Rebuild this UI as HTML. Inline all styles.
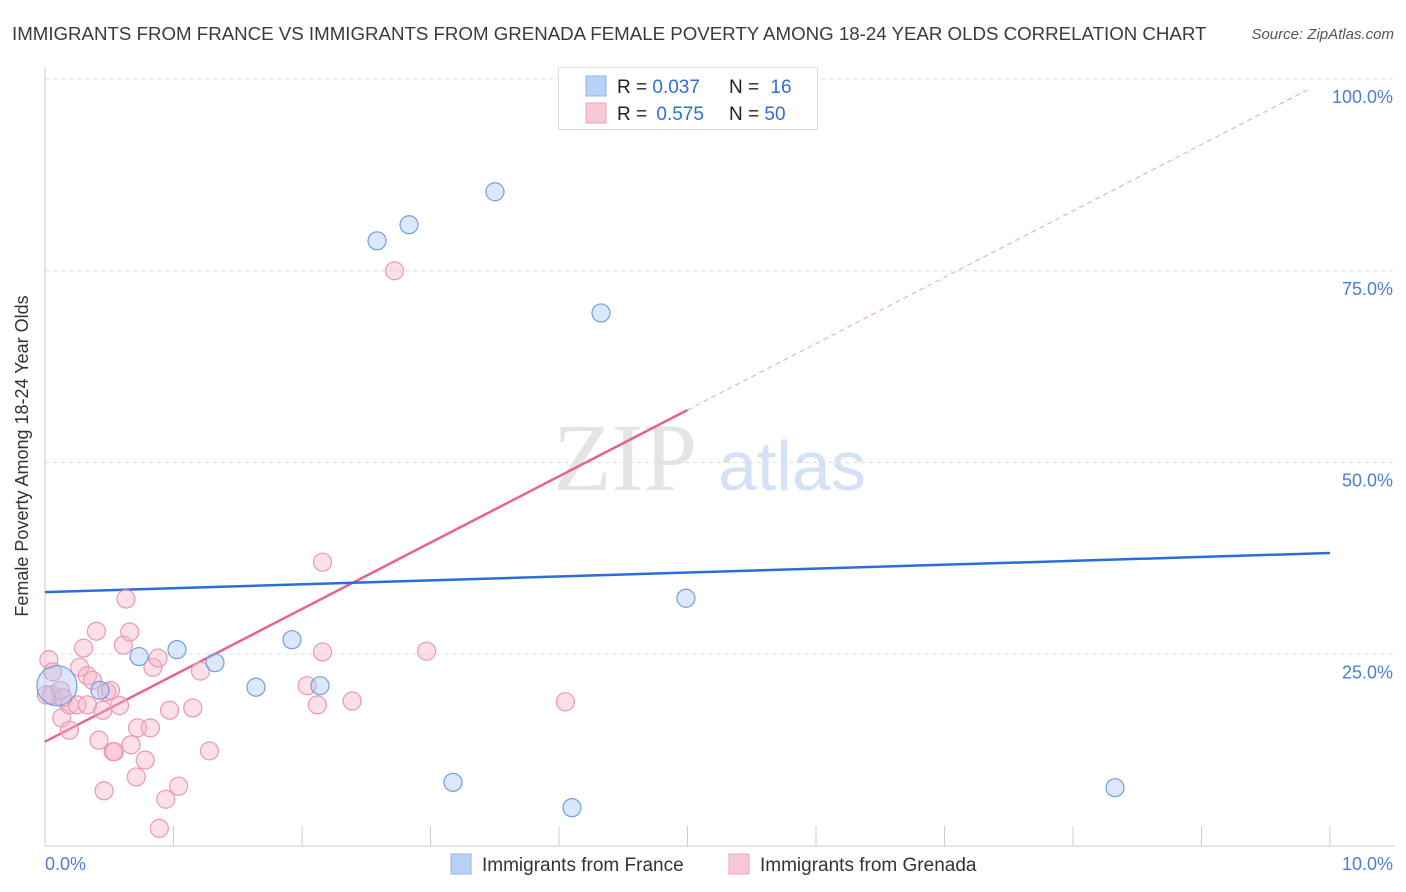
<!DOCTYPE html>
<html><head><meta charset="utf-8"><style>
body{margin:0;background:#fff;font-family:"Liberation Sans",sans-serif;}
svg{display:block}
</style></head><body>
<svg id="chart" width="1406" height="892">
<text x="12" y="40" font-size="18.7" fill="#3a3a3a">IMMIGRANTS FROM FRANCE VS IMMIGRANTS FROM GRENADA FEMALE POVERTY AMONG 18-24 YEAR OLDS CORRELATION CHART</text>
<text x="1394" y="39" font-size="15" font-style="italic" fill="#555" text-anchor="end">Source: ZipAtlas.com</text>
<text x="28" y="456" font-size="18" fill="#333" text-anchor="middle" transform="rotate(-90 28 456)">Female Poverty Among 18-24 Year Olds</text>
<g>
<text x="553" y="490" font-family="Liberation Serif,serif" font-size="96" fill="#e4e4e4">ZIP</text>
<text x="718" y="490" font-size="70" fill="#d4e2f6">atlas</text>
</g>
<g id="grid"></g>
<g id="axes"></g>
<g id="lines"></g>
<g id="pts"></g>
<g>
<rect x="558.5" y="67.5" width="259" height="62" fill="#fff" stroke="#ddd"/>
<rect x="586" y="76" width="20" height="20" fill="#b9d1f6" stroke="#8fb3ea"/>
<rect x="586" y="103" width="20" height="20" fill="#f9c8d6" stroke="#eea3ba"/>
<text x="617" y="93" font-size="19" fill="#222">R = <tspan fill="#2f6fd0">0.037</tspan></text>
<text x="729" y="93" font-size="19" fill="#222">N = <tspan fill="#2f6fd0" dx="6">16</tspan></text>
<text x="617" y="120" font-size="19" fill="#222">R = <tspan fill="#2f6fd0" dx="4">0.575</tspan></text>
<text x="729" y="120" font-size="19" fill="#222">N = <tspan fill="#2f6fd0">50</tspan></text>
</g>
<g>
<rect x="451" y="854" width="20" height="20" fill="#b9d1f6" stroke="#8fb3ea"/>
<text x="482" y="871" font-size="19" fill="#333">Immigrants from France</text>
<rect x="729" y="854" width="20" height="20" fill="#f9c8d6" stroke="#eea3ba"/>
<text x="760" y="871" font-size="19" fill="#333">Immigrants from Grenada</text>
</g>
</svg>
<script>
const xTicks=[0,1,2,3,4,5,6,7,8,9,10];
const yTicks=[25,50,75,100];
const yTickLabels=["25.0%","50.0%","75.0%","100.0%"];
const xEndLabels=["0.0%","10.0%"];
const franceX=[0.093,0.428,0.732,1.027,1.323,1.642,1.922,2.140,2.584,2.833,3.502,4.327,4.988,3.175,4.101,8.327];
const franceY=[20.9,20.3,24.7,25.6,23.9,20.7,26.9,20.9,78.9,81.0,85.3,69.5,32.3,8.3,5.0,7.6];
const grenadaX=[0.03,0.06,0.05,0.12,0.13,0.19,0.19,0.25,0.27,0.30,0.33,0.37,0.40,0.42,0.45,0.46,0.48,0.53,0.54,0.58,0.61,0.63,0.66,0.67,0.71,0.72,0.78,0.82,0.84,0.88,0.89,0.94,0.97,1.04,1.15,1.21,1.28,2.04,2.12,2.16,2.16,2.39,2.72,2.97,4.05,4.75,0.33,0.14,0.51,0.01];
const grenadaY=[24.3,22.7,19.7,20.3,16.7,15.1,18.4,18.4,23.3,25.8,22.2,21.6,28.0,13.8,17.7,7.2,20.1,12.3,12.3,18.3,26.2,32.2,27.9,13.2,9.0,15.4,11.2,15.4,23.3,24.5,2.3,6.1,17.7,7.8,18.0,22.8,12.4,20.9,18.4,25.3,37.0,18.9,75.0,25.4,18.8,99.9,18.4,19.3,20.3,19.7];
const franceTrend=[33.1,38.2];
const grenadaTrend=[13.6,100.1];
const grenadaSolidEnd=5.0;
const NS="http://www.w3.org/2000/svg";
const X=v=>45+v*128.5, Y=v=>846-v*7.67;
function mk(p,t,a){const e=document.createElementNS(NS,t);for(const k in a)e.setAttribute(k,a[k]);p.appendChild(e);return e;}
const grid=document.getElementById('grid'),axes=document.getElementById('axes'),lines=document.getElementById('lines'),pts=document.getElementById('pts');
yTicks.forEach((t,i)=>{
 const l=mk(grid,'line',{x1:45,x2:1395,y1:Y(t),y2:Y(t),stroke:'#ddd','stroke-dasharray':'4,4'});
 
 
 const tx=mk(axes,'text',{x:1393,y:Y(t)+24,'font-size':18,fill:'#4a7fd4','text-anchor':'end'});tx.textContent=yTickLabels[i];
 
 
});
const ax=mk(axes,'line',{x1:45,x2:1395,y1:846,y2:846,stroke:'#ccc'});


const ay=mk(axes,'line',{x1:45,x2:45,y1:67,y2:846,stroke:'#ccc'});


xTicks.forEach(t=>{const l=mk(axes,'line',{x1:X(t),x2:X(t),y1:826,y2:846,stroke:'#ccc'});
 
 });
const xl0=mk(axes,'text',{x:45,y:870,'font-size':18,fill:'#4a7fd4'});xl0.textContent=xEndLabels[0];


const xl1=mk(axes,'text',{x:1393,y:870,'font-size':18,fill:'#4a7fd4','text-anchor':'end'});xl1.textContent=xEndLabels[1];


const gy=x=>grenadaTrend[0]+(grenadaTrend[1]-grenadaTrend[0])*x/10;
grenadaX.forEach((x,i)=>{const c=mk(pts,'circle',{cx:X(x),cy:Y(grenadaY[i]),r:9,fill:'rgba(248,178,200,0.4)',stroke:'#ea98b1','stroke-width':1.2});
 
 });
franceX.forEach((x,i)=>{const c=mk(pts,'circle',{cx:X(x),cy:Y(franceY[i]),r:i==0?20:9,fill:'rgba(164,196,244,0.4)',stroke:'#6f9fe0','stroke-width':1.2});
 
 });
const gd=mk(lines,'line',{x1:X(grenadaSolidEnd),y1:Y(gy(grenadaSolidEnd)),x2:X(9.85),y2:Y(gy(9.85)),stroke:'#f0a0b8','stroke-width':1,'stroke-dasharray':'5,4'});


const gs=mk(lines,'line',{x1:X(0),y1:Y(gy(0)),x2:X(grenadaSolidEnd),y2:Y(gy(grenadaSolidEnd)),stroke:'#e8628f','stroke-width':2.5});


const fl=mk(lines,'line',{x1:X(0),y1:Y(franceTrend[0]),x2:X(10),y2:Y(franceTrend[1]),stroke:'#2a6fd6','stroke-width':2.5});


</script>
</body></html>
